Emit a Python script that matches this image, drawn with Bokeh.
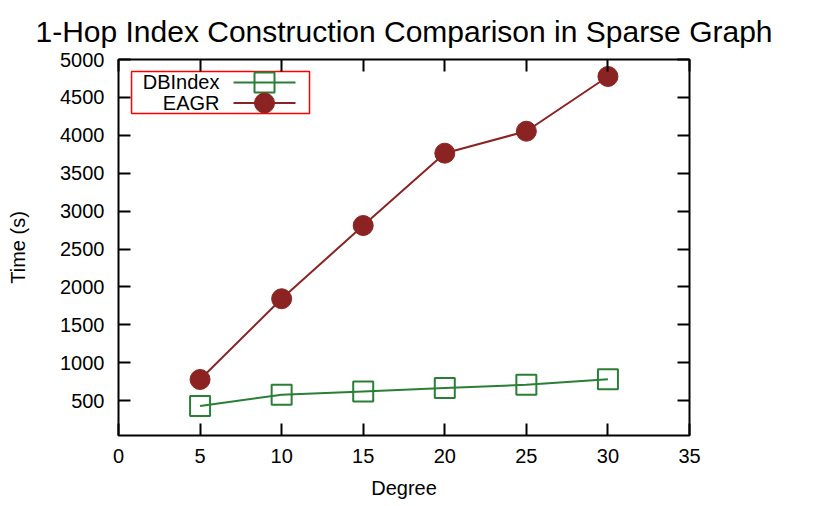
from bokeh.plotting import figure
from bokeh.models import Range1d, FixedTicker, LinearAxis, Label, BoxAnnotation, ColumnDataSource
from bokeh.embed import file_html
from bokeh.resources import INLINE

# ---- data ----
degree = [5, 10, 15, 20, 25, 30]
dbindex = [430, 577, 621, 665, 709, 783]
eagr = [779, 1844, 2810, 3764, 4054, 4776]
x_ticks = [0, 5, 10, 15, 20, 25, 30, 35]
y_ticks = [500, 1000, 1500, 2000, 2500, 3000, 3500, 4000, 4500, 5000]
series_names = ["DBIndex", "EAGR"]
title_text = "1-Hop Index Construction Comparison in Sparse Graph"

FONT = "Liberation Sans"
GREEN = "#2a7f36"
RED = "#8b2323"

p = figure(width=831, height=506, output_backend="svg", toolbar_location=None,
           x_range=Range1d(0, 35), y_range=Range1d(40, 5000),
           x_axis_location=None, y_axis_location=None,
           min_border_left=118, min_border_right=142, min_border_top=59, min_border_bottom=71,
           title=title_text)
p.title.align = "center"
p.title.text_font = FONT
p.title.text_font_size = "30px"
p.title.text_font_style = "normal"
p.title.text_color = "black"
p.title.standoff = 23

p.xgrid.visible = False
p.ygrid.visible = False
p.outline_line_color = "black"
p.outline_line_width = 2
p.outline_line_alpha = 1

bottom = LinearAxis(axis_label="Degree", ticker=FixedTicker(ticks=x_ticks))
left = LinearAxis(axis_label="Time (s)", ticker=FixedTicker(ticks=y_ticks))
right = LinearAxis(ticker=FixedTicker(ticks=y_ticks))
top = LinearAxis(ticker=FixedTicker(ticks=x_ticks))
p.add_layout(bottom, "below")
p.add_layout(left, "left")
p.add_layout(right, "right")
p.add_layout(top, "above")

for ax in [bottom, left, right, top]:
    ax.axis_line_color = None
    ax.major_tick_in = 12
    ax.major_tick_out = 0
    ax.major_tick_line_width = 2
    ax.major_tick_line_color = "black"
    ax.minor_tick_line_color = None
    ax.major_label_text_font = FONT
    ax.major_label_text_font_size = "20px"
    ax.major_label_text_color = "black"
    ax.axis_label_text_font = FONT
    ax.axis_label_text_font_size = "20px"
    ax.axis_label_text_font_style = "normal"
    ax.axis_label_text_color = "black"

bottom.major_label_standoff = 13
left.major_label_standoff = 14
bottom.axis_label_standoff = 11
left.axis_label_standoff = 28
for ax in [right, top]:
    ax.major_label_text_font_size = "0px"
    ax.major_label_standoff = 0

src = ColumnDataSource(dict(x=degree, db=dbindex, ea=eagr))

p.line("x", "db", source=src, line_color=GREEN, line_width=2)
p.scatter("x", "db", source=src, marker="square", size=20, line_color=GREEN, line_width=2,
          fill_alpha=0)
p.line("x", "ea", source=src, line_color=RED, line_width=2)
p.scatter("x", "ea", source=src, marker="circle", size=20, line_color=RED, fill_color=RED)

# ---- manual gnuplot-style legend (text left, sample right) ----
leg = dict(box_l=0.80, box_r=11.71, box_t=4842, box_b=4288,
           text_x=6.19, line_x0=7.05, line_x1=10.85, mark_x=8.95,
           rows=[4697, 4426])
p.add_layout(BoxAnnotation(left=leg["box_l"], right=leg["box_r"], top=leg["box_t"], bottom=leg["box_b"],
                           fill_color="white", fill_alpha=1, line_color="#ff0000", line_alpha=1,
                           line_width=1.5, level="underlay"))
colors = [GREEN, RED]
markers = ["square", "circle"]
for name, yy, c, m in zip(series_names, leg["rows"], colors, markers):
    p.add_layout(Label(x=leg["text_x"], y=yy, text=name, text_align="right", text_baseline="middle",
                       text_font=FONT, text_font_size="20px", text_color="black"))
    p.line([leg["line_x0"], leg["line_x1"]], [yy, yy], line_color=c, line_width=2)
    if m == "square":
        p.scatter([leg["mark_x"]], [yy], marker=m, size=20, line_color=c, line_width=2, fill_alpha=0)
    else:
        p.scatter([leg["mark_x"]], [yy], marker=m, size=20, line_color=c, fill_color=c)

open("out.html", "w").write(file_html(p, INLINE))
